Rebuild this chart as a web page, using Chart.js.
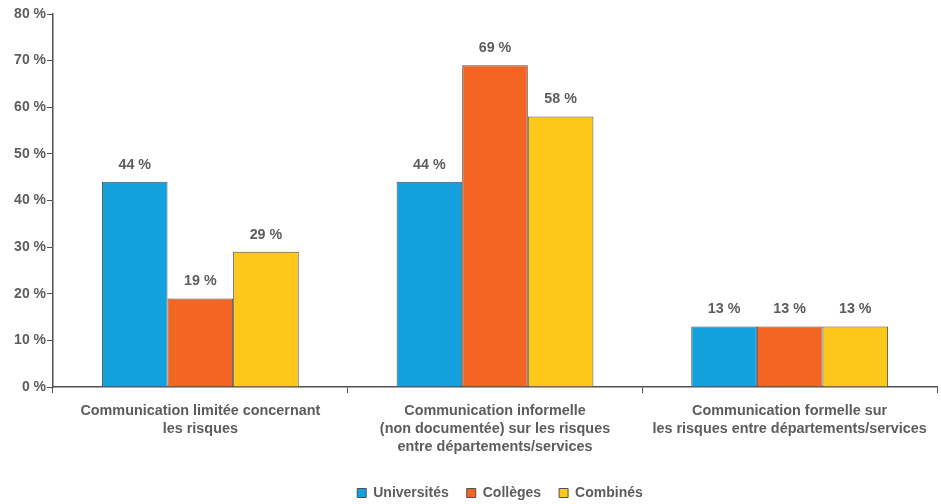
<!DOCTYPE html>
<html>
<head>
<meta charset="utf-8">
<script src="https://cdn.jsdelivr.net/npm/chart.js@4/dist/chart.umd.min.js"></script>
<style>
html,body{margin:0;padding:0;background:#fff;}
#wrap{width:941px;height:504px;position:relative;}
</style>
</head>
<body>
<div id="wrap"><canvas id="c" width="941" height="504"></canvas></div>
<script>
const categories = [
  ["Communication limitée concernant", "les risques"],
  ["Communication informelle", "(non documentée) sur les risques", "entre départements/services"],
  ["Communication formelle sur", "les risques entre départements/services"]
];
const seriesNames = ["Universités", "Collèges", "Combinés"];
const universites = [44, 44, 13];
const colleges = [19, 69, 13];
const combines = [29, 58, 13];
const yTicks = [0, 10, 20, 30, 40, 50, 60, 70, 80];

const TEXT = '#5c5c5c';
const LINE = '#505050';
const FONT = 'Liberation Sans, Arial, sans-serif';

const valueLabels = {
  id: 'valueLabels',
  afterDatasetsDraw(chart) {
    const ctx = chart.ctx;
    ctx.save();
    ctx.font = 'bold 14.3px ' + FONT;
    ctx.fillStyle = TEXT;
    ctx.textAlign = 'center';
    ctx.textBaseline = 'bottom';
    chart.data.datasets.forEach((ds, i) => {
      const meta = chart.getDatasetMeta(i);
      meta.data.forEach((bar, j) => {
        ctx.fillText(ds.data[j] + ' %', bar.x, bar.y - 10);
      });
    });
    ctx.restore();
  }
};

const legendOnPlot = {
  id: 'legendOnPlot',
  afterLayout(chart) {
    const l = chart.legend;
    if (!l) return;
    l.left = chart.chartArea.left + 10;
    l.right = chart.chartArea.right;
    l.width = l.right - l.left;
  }
};

new Chart(document.getElementById('c'), {
  type: 'bar',
  data: {
    labels: categories,
    datasets: [
      {label: seriesNames[0], data: universites, backgroundColor: '#13A1DD', borderColor: LINE, borderWidth: 1},
      {label: seriesNames[1], data: colleges, backgroundColor: '#F26522', borderColor: LINE, borderWidth: 1},
      {label: seriesNames[2], data: combines, backgroundColor: '#FDC81A', borderColor: LINE, borderWidth: 1}
    ]
  },
  options: {
    responsive: false,
    animation: false,
    events: [],
    layout: {padding: {left: 0, right: 4, top: 14, bottom: -6}},
    datasets: {bar: {categoryPercentage: 0.668, barPercentage: 1.0}},
    plugins: {
      legend: {
        position: 'bottom',
        labels: {
          boxWidth: 9, boxHeight: 9, padding: 18,
          color: TEXT,
          font: {family: FONT, size: 14, weight: 'bold'}
        }
      },
      tooltip: {enabled: false}
    },
    scales: {
      x: {
        grid: {display: true, drawOnChartArea: false, drawTicks: true, tickLength: 6, color: LINE, offset: true},
        border: {display: true, color: LINE, width: 1.5},
        ticks: {color: TEXT, font: {family: FONT, size: 14.4, weight: 'bold', lineHeight: 1.25}, padding: 9, maxRotation: 0, autoSkip: false},
        afterFit(scale) { scale.height = 81; }
      },
      y: {
        min: 0, max: 80,
        afterBuildTicks(scale) { scale.ticks = yTicks.map(v => ({value: v})); },
        grid: {display: true, drawOnChartArea: false, drawTicks: true, tickLength: 6, color: LINE},
        border: {display: true, color: LINE, width: 1.5},
        ticks: {color: TEXT, font: {family: FONT, size: 14, weight: 'bold'}, padding: 1, callback: v => v + ' %'},
        afterFit(scale) { scale.width = 53; }
      }
    }
  },
  plugins: [valueLabels, legendOnPlot]
});
</script>
</body>
</html>
